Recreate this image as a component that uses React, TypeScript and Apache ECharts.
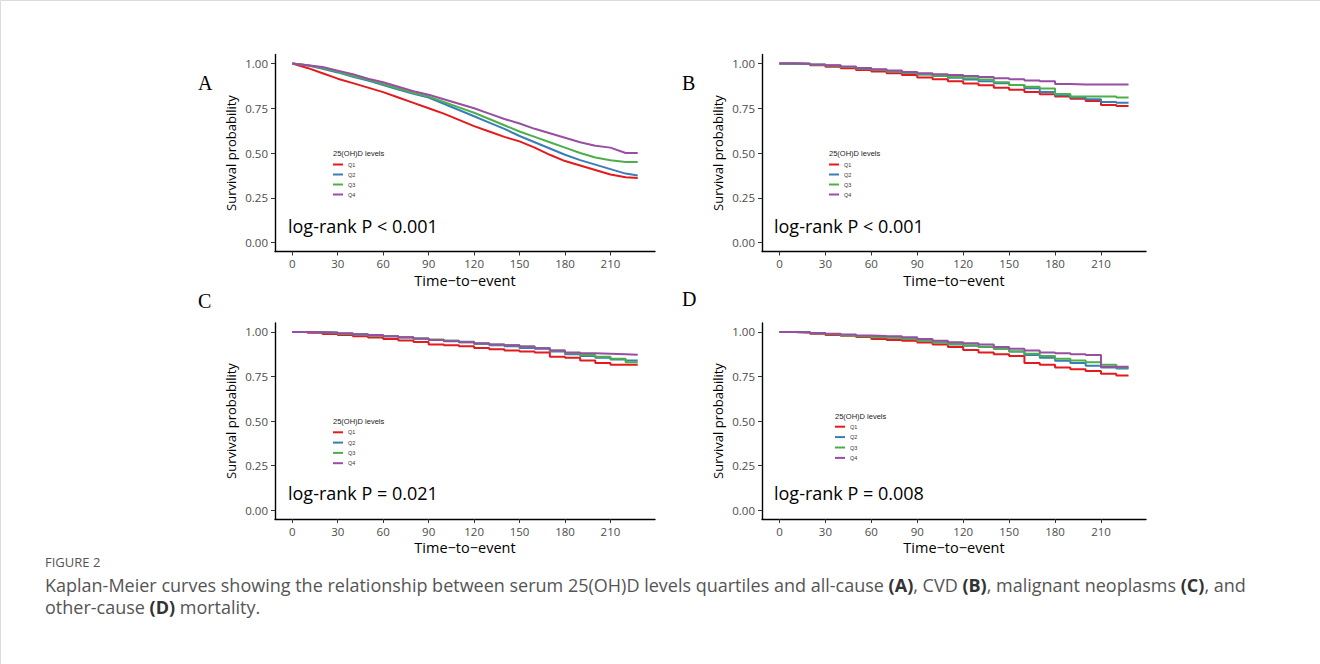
import React, { useEffect, useRef } from "react";
import * as echarts from "echarts";

const times = [0, 10, 20, 30, 40, 50, 60, 70, 80, 90, 100, 110, 120, 130, 140, 150, 160, 170, 180, 190, 200, 210, 220, 228];
const xTicks = [0, 30, 60, 90, 120, 150, 180, 210];
const yTicks = [0, 0.25, 0.5, 0.75, 1];
const groups = ["Q1", "Q2", "Q3", "Q4"];
const colors = ["#E41A1C", "#377EB8", "#4DAF4A", "#984EA3"];
const panelLetters = ["A", "B", "C", "D"];
const pTexts = ["log-rank P < 0.001", "log-rank P < 0.001", "log-rank P = 0.021", "log-rank P = 0.008"];

// Panel A: all-cause
const aQ1 = [1, 0.975, 0.945, 0.915, 0.89, 0.865, 0.84, 0.81, 0.78, 0.75, 0.72, 0.685, 0.65, 0.62, 0.59, 0.565, 0.53, 0.49, 0.455, 0.43, 0.405, 0.38, 0.365, 0.36];
const aQ2 = [1, 0.99, 0.97, 0.95, 0.925, 0.905, 0.88, 0.855, 0.83, 0.81, 0.775, 0.74, 0.705, 0.67, 0.635, 0.595, 0.56, 0.525, 0.49, 0.46, 0.435, 0.41, 0.385, 0.375];
const aQ3 = [1, 0.99, 0.975, 0.955, 0.93, 0.91, 0.885, 0.86, 0.835, 0.815, 0.785, 0.755, 0.725, 0.69, 0.655, 0.62, 0.59, 0.56, 0.53, 0.5, 0.475, 0.46, 0.45, 0.45];
const aQ4 = [1, 0.99, 0.98, 0.96, 0.94, 0.915, 0.895, 0.87, 0.845, 0.825, 0.8, 0.775, 0.75, 0.72, 0.69, 0.665, 0.635, 0.61, 0.585, 0.56, 0.54, 0.53, 0.5, 0.5];
// Panel B: CVD
const bQ1 = [1, 0.997, 0.99, 0.982, 0.973, 0.963, 0.955, 0.945, 0.935, 0.922, 0.912, 0.9, 0.888, 0.878, 0.865, 0.853, 0.84, 0.828, 0.815, 0.803, 0.79, 0.768, 0.762, 0.762];
const bQ2 = [1, 0.998, 0.993, 0.987, 0.98, 0.972, 0.963, 0.955, 0.947, 0.938, 0.93, 0.92, 0.91, 0.9, 0.89, 0.88, 0.862, 0.84, 0.822, 0.81, 0.8, 0.785, 0.78, 0.78];
const bQ3 = [1, 0.998, 0.993, 0.988, 0.98, 0.972, 0.965, 0.957, 0.948, 0.94, 0.932, 0.925, 0.917, 0.91, 0.895, 0.88, 0.87, 0.86, 0.83, 0.815, 0.815, 0.815, 0.81, 0.81];
const bQ4 = [1, 0.998, 0.994, 0.99, 0.983, 0.975, 0.968, 0.96, 0.952, 0.945, 0.94, 0.935, 0.93, 0.925, 0.918, 0.912, 0.905, 0.9, 0.885, 0.882, 0.882, 0.882, 0.882, 0.882];
// Panel C: malignant neoplasms
const cQ1 = [1, 0.995, 0.988, 0.982, 0.975, 0.968, 0.96, 0.952, 0.943, 0.93, 0.925, 0.92, 0.91, 0.902, 0.895, 0.89, 0.885, 0.86, 0.855, 0.84, 0.825, 0.815, 0.815, 0.815];
const cQ2 = [1, 0.998, 0.995, 0.99, 0.985, 0.98, 0.975, 0.968, 0.962, 0.955, 0.95, 0.945, 0.932, 0.925, 0.92, 0.91, 0.905, 0.89, 0.875, 0.865, 0.855, 0.845, 0.84, 0.84];
const cQ3 = [1, 0.998, 0.995, 0.99, 0.985, 0.98, 0.975, 0.97, 0.963, 0.957, 0.95, 0.942, 0.935, 0.93, 0.925, 0.918, 0.91, 0.895, 0.88, 0.87, 0.86, 0.85, 0.83, 0.83];
const cQ4 = [1, 0.998, 0.996, 0.992, 0.987, 0.982, 0.976, 0.97, 0.963, 0.955, 0.948, 0.942, 0.936, 0.93, 0.925, 0.918, 0.908, 0.895, 0.885, 0.88, 0.878, 0.875, 0.872, 0.872];
// Panel D: other-cause
const dQ1 = [1, 0.997, 0.99, 0.983, 0.978, 0.972, 0.96, 0.955, 0.95, 0.94, 0.93, 0.915, 0.898, 0.885, 0.875, 0.865, 0.825, 0.815, 0.8, 0.79, 0.78, 0.765, 0.755, 0.755];
const dQ2 = [1, 0.998, 0.993, 0.988, 0.982, 0.977, 0.972, 0.967, 0.962, 0.952, 0.94, 0.93, 0.922, 0.915, 0.905, 0.89, 0.87, 0.855, 0.838, 0.825, 0.81, 0.8, 0.795, 0.795];
const dQ3 = [1, 0.998, 0.993, 0.987, 0.98, 0.975, 0.97, 0.967, 0.962, 0.952, 0.942, 0.932, 0.925, 0.917, 0.905, 0.89, 0.878, 0.865, 0.85, 0.84, 0.83, 0.815, 0.8, 0.8];
const dQ4 = [1, 0.998, 0.994, 0.99, 0.985, 0.98, 0.977, 0.975, 0.97, 0.96, 0.95, 0.942, 0.937, 0.93, 0.915, 0.905, 0.895, 0.885, 0.88, 0.875, 0.87, 0.805, 0.805, 0.805];

const panelData = [
  [aQ1, aQ2, aQ3, aQ4],
  [bQ1, bQ2, bQ3, bQ4],
  [cQ1, cQ2, cQ3, cQ4],
  [dQ1, dQ2, dQ3, dQ4],
];

const FONT = "'Open Sans', sans-serif";

export default function App() {
  const ref = useRef<HTMLDivElement>(null);
  useEffect(() => {
    if (!ref.current) return;
    const chart = echarts.init(ref.current, null, { renderer: "svg" });

    const grids = [
      { left: 275, top: 54.5, width: 380, height: 197 },
      { left: 762, top: 54.5, width: 384, height: 197 },
      { left: 275, top: 323, width: 380, height: 196 },
      { left: 762, top: 323, width: 384, height: 196 },
    ];
    const legendPos = [
      { left: 333, top: 161.5, title: 153, gap: 4 },
      { left: 829, top: 161.5, title: 153, gap: 4 },
      { left: 333, top: 429.3, title: 421, gap: 4.3 },
      { left: 835, top: 423.7, title: 416, gap: 4.4 },
    ];
    const letterPos = [
      { x: 198, y: 83 },
      { x: 682, y: 83 },
      { x: 198, y: 301 },
      { x: 682, y: 299 },
    ];
    const pPos = [
      { x: 288, y: 226 },
      { x: 774, y: 226 },
      { x: 288, y: 493 },
      { x: 774, y: 493 },
    ];

    const axisLabelStyle = { color: "#4D4D4D", fontSize: 11.5, fontFamily: FONT };

    const xAxis = grids.map((_, i) => ({
      type: "value",
      gridIndex: i,
      min: -11.4,
      max: 239.4,
      name: "Time\u2212to\u2212event",
      nameLocation: "middle",
      nameGap: 21,
      nameTextStyle: { color: "#000", fontSize: 14.5, fontFamily: FONT },
      axisLine: { show: true, onZero: false, lineStyle: { color: "#000", width: 1.4 } },
      axisTick: { show: true, length: 4, lineStyle: { color: "#333" }, customValues: xTicks },
      axisLabel: { ...axisLabelStyle, margin: 6, customValues: xTicks, formatter: (v: number) => String(v) },
      splitLine: { show: false },
    }));
    const yAxis = grids.map((_, i) => ({
      type: "value",
      gridIndex: i,
      min: -0.05,
      max: 1.05,
      name: "Survival probability",
      nameLocation: "middle",
      nameGap: 38,
      nameTextStyle: { color: "#000", fontSize: 13, fontFamily: FONT },
      axisLine: { show: true, onZero: false, lineStyle: { color: "#000", width: 1.4 } },
      axisTick: { show: true, length: 4, lineStyle: { color: "#333" }, customValues: yTicks },
      axisLabel: { ...axisLabelStyle, margin: 7, customValues: yTicks, formatter: (v: number) => v.toFixed(2) },
      splitLine: { show: false },
    }));

    const series: any[] = [];
    panelData.forEach((arrs, p) => {
      arrs.forEach((vals, q) => {
        series.push({
          type: "line",
          name: groups[q],
          xAxisIndex: p,
          yAxisIndex: p,
          step: p === 0 ? false : "end",
          symbol: "none",
          showSymbol: false,
          data: times.map((t, i) => [t, vals[i]]),
          lineStyle: { color: colors[q], width: 2 },
          itemStyle: { color: colors[q] },
          z: 2 + q,
        });
      });
    });

    const legend = legendPos.map((lp) => ({
      orient: "vertical",
      left: lp.left,
      top: lp.top,
      padding: 0,
      itemGap: lp.gap,
      itemWidth: 10,
      itemHeight: 2,
      icon: "rect",
      selectedMode: false,
      data: groups,
      textStyle: { fontSize: 5.5, lineHeight: 6, color: "#333", fontFamily: "'Liberation Sans', Arial, sans-serif" },
    }));

    const graphic: any[] = [];
    graphic.push({ type: "line", shape: { x1: 0.5, y1: 0.5, x2: 1320, y2: 0.5 }, style: { stroke: "#dcdcdc", lineWidth: 1 } });
    graphic.push({ type: "line", shape: { x1: 0.5, y1: 0.5, x2: 0.5, y2: 664 }, style: { stroke: "#dcdcdc", lineWidth: 1 } });
    for (let i = 0; i < 4; i++) {
      graphic.push({
        type: "text",
        x: letterPos[i].x,
        y: letterPos[i].y,
        style: { text: panelLetters[i], font: "20px 'Liberation Serif', 'Times New Roman', serif", fill: "#000", textVerticalAlign: "middle" },
      });
      graphic.push({
        type: "text",
        x: legendPos[i].left,
        y: legendPos[i].title,
        style: { text: "25(OH)D levels", font: "7.5px 'Liberation Sans', Arial, sans-serif", fill: "#222", textVerticalAlign: "middle" },
      });
      graphic.push({
        type: "text",
        x: pPos[i].x,
        y: pPos[i].y,
        style: { text: pTexts[i], font: "18px " + FONT, fill: "#000", textVerticalAlign: "middle" },
      });
    }
    graphic.push({
      type: "text",
      x: 45,
      y: 562,
      style: { text: "FIGURE 2", font: "13px " + FONT, fill: "#555", textVerticalAlign: "middle" },
    });
    const rich = { b: { fontWeight: "bold", fill: "#333", fontSize: 18, fontFamily: FONT } };
    graphic.push({
      type: "text",
      x: 45,
      y: 585,
      style: {
        text: "Kaplan-Meier curves showing the relationship between serum 25(OH)D levels quartiles and all-cause {b|(A)}, CVD {b|(B)}, malignant neoplasms {b|(C)}, and",
        font: "18px " + FONT,
        fill: "#555",
        textVerticalAlign: "middle",
        rich,
      },
    });
    graphic.push({
      type: "text",
      x: 45,
      y: 607,
      style: {
        text: "other-cause {b|(D)} mortality.",
        font: "18px " + FONT,
        fill: "#555",
        textVerticalAlign: "middle",
        rich,
      },
    });

    chart.setOption({
      animation: false,
      backgroundColor: "#fff",
      grid: grids,
      xAxis,
      yAxis,
      series,
      legend,
      graphic,
    });
    return () => chart.dispose();
  }, []);
  return <div ref={ref} style={{ position: "absolute", left: 0, top: 0, width: 1320, height: 664 }} />;
}
